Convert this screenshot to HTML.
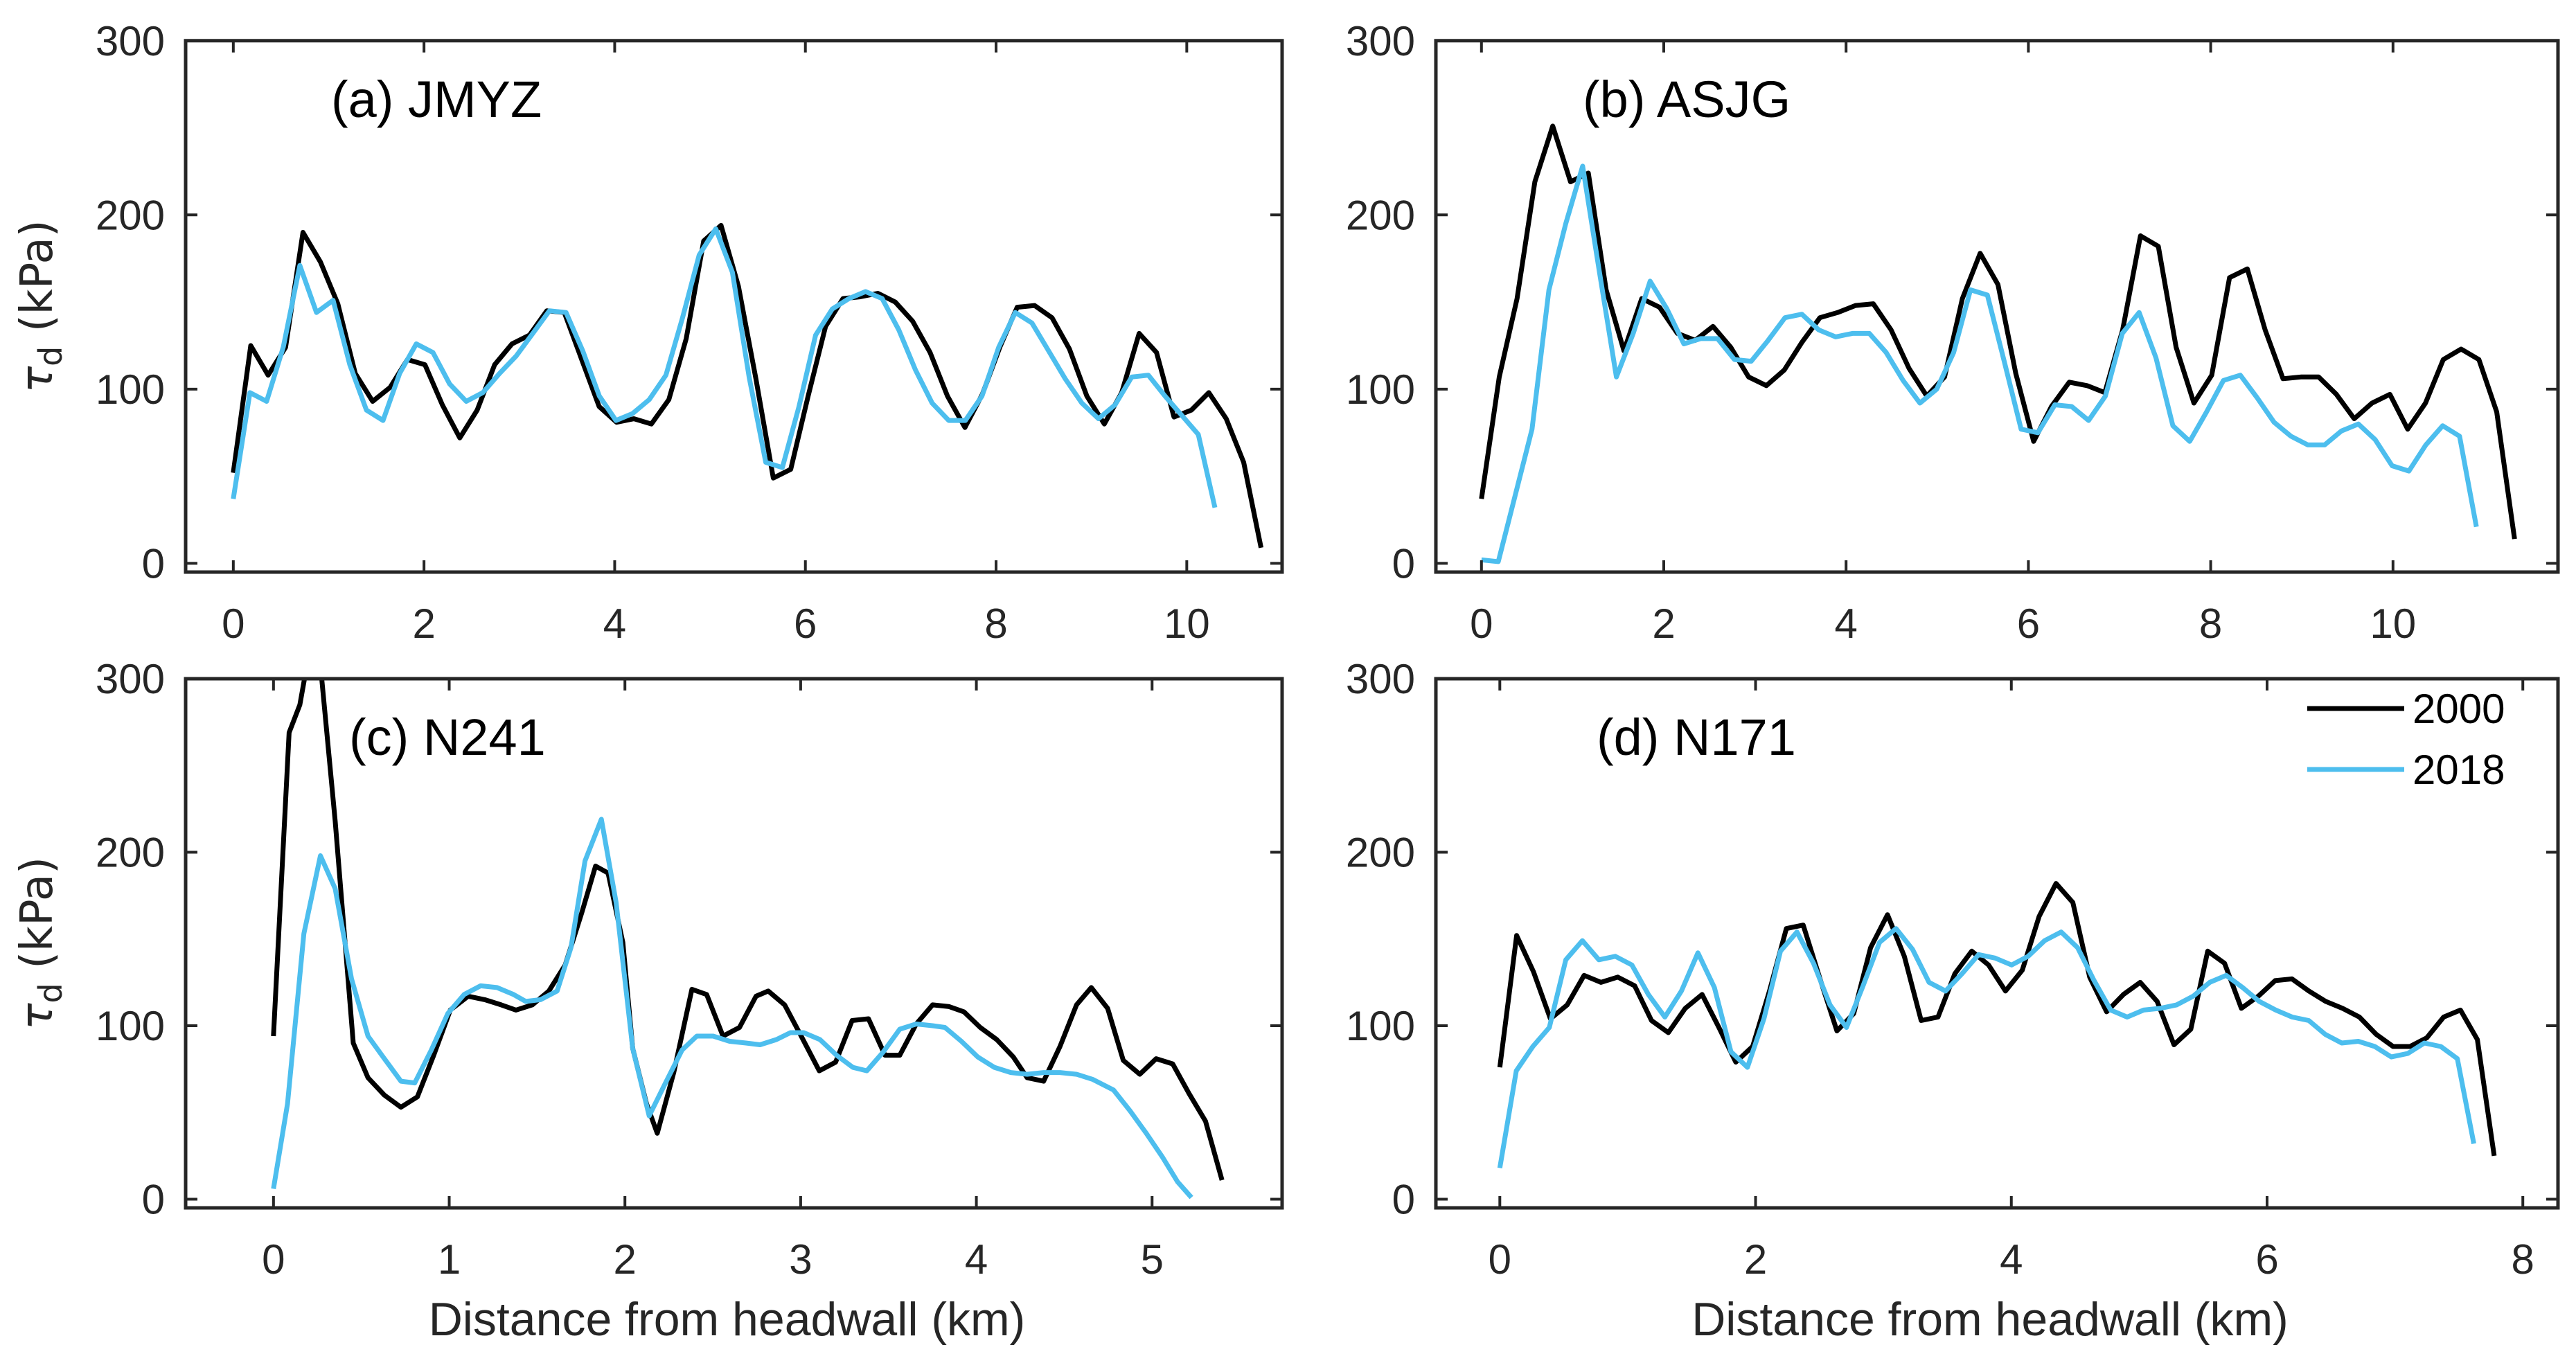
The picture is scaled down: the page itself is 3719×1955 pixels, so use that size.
<!DOCTYPE html>
<html><head><meta charset="utf-8">
<style>
html,body{margin:0;padding:0;background:#fff;}
svg{display:block;font-family:"Liberation Sans",sans-serif;}
</style></head>
<body>
<svg id="chart" width="3719" height="1955" viewBox="0 0 3719 1955" xmlns="http://www.w3.org/2000/svg">
<rect width="3719" height="1955" fill="#fff"/>
</svg>
<script>
// ---- data (kPa) ----
const aStep2000 = 0.1827;
const a2000 = [52,125,108,124,190,173,149,109,93,101,117,114,91,72,88,114,126,131,145,144,117,90,81,83,80,94,129,185,194,159,106,49,54,96,136,152,153,155,150,139,121,96,78,97,124,147,148,141,123,96,80,98,132,121,84,88,98,83,58,9];
const aStep2018 = 0.1745;
const a2018 = [37,98,93,124,171,144,151,114,88,82,109,126,121,103,93,98,109,119,132,145,144,122,96,82,86,94,108,141,177,192,167,107,58,55,90,131,146,152,156,152,134,111,92,82,82,96,124,144,138,122,106,92,83,91,107,108,96,85,74,32];
const bStep2000 = 0.1954;
const b2000 = [37,107,152,219,251,219,224,157,122,152,147,132,128,136,124,107,102,111,127,141,144,148,149,134,112,96,107,152,178,160,109,70,90,104,102,98,134,188,182,124,92,108,164,169,134,106,107,107,97,83,92,97,77,92,117,123,117,87,14];
const bStep2018 = 0.185;
const b2018 = [2,1,39,77,157,195,228,167,107,132,162,146,126,129,129,117,116,128,141,143,134,130,132,132,121,105,92,100,121,157,154,116,77,75,91,90,82,96,132,144,118,79,70,87,105,108,95,81,73,68,68,76,80,71,56,53,68,79,73,21];
const cX2000 = [0,0.089,0.15,0.187,0.267,0.351,0.454,0.538,0.631,0.725,0.819,0.912,1.006,1.108,1.202,1.296,1.38,1.473,1.567,1.66,1.754,1.833,1.904,1.988,2.044,2.123,2.184,2.278,2.381,2.465,2.558,2.652,2.746,2.816,2.909,3.003,3.106,3.199,3.293,3.386,3.48,3.564,3.658,3.751,3.845,3.929,4.022,4.116,4.21,4.289,4.383,4.476,4.57,4.654,4.747,4.836,4.93,5.023,5.117,5.21,5.304,5.398];
const c2000 = [94,269,285,306,308,218,90,70,60,53,59,83,109,117,115,112,109,112,120,135,165,192,188,148,87,55,38,73,121,118,94,99,117,120,112,94,74,79,103,104,83,83,101,112,111,108,99,92,82,70,68,88,112,122,110,80,72,81,78,61,45,11];
const cX2018 = [0,0.08,0.173,0.267,0.351,0.444,0.538,0.631,0.725,0.804,0.898,0.992,1.085,1.179,1.272,1.366,1.436,1.52,1.614,1.693,1.773,1.866,1.95,2.044,2.138,2.231,2.325,2.409,2.502,2.596,2.689,2.769,2.862,2.942,3.017,3.11,3.204,3.297,3.377,3.471,3.564,3.658,3.751,3.821,3.915,4.008,4.102,4.196,4.289,4.383,4.476,4.57,4.663,4.78,4.874,4.967,5.061,5.145,5.224];
const c2018 = [6,55,153,198,179,127,94,81,68,67,86,107,118,123,122,118,114,115,120,145,195,219,171,87,48,67,86,94,94,91,90,89,92,96,96,92,83,76,74,85,98,101,100,99,91,82,76,73,72,73,73,72,69,63,51,38,24,10,1];
const dStep2000 = 0.1318;
const d2000 = [76,152,131,104,112,129,125,128,123,103,96,110,118,99,79,88,120,156,158,127,97,107,145,164,140,103,105,130,143,135,120,132,163,182,171,128,108,118,125,114,89,98,143,136,110,117,126,127,120,114,110,105,95,88,88,93,105,109,92,25];
const dStep2018 = 0.1291;
const d2018 = [18,74,88,99,138,149,138,140,135,118,105,120,142,122,85,76,104,143,154,136,112,99,123,148,156,144,125,120,130,141,139,135,140,149,154,145,126,109,105,109,110,112,117,125,129,122,114,109,105,103,95,90,91,88,82,84,90,88,81,32];
const xTicksAB = [0,2,4,6,8,10];
const xTicksC = [0,1,2,3,4,5];
const xTicksD = [0,2,4,6,8];
const yTicks = [0,100,200,300];

const NS = "http://www.w3.org/2000/svg";
const svg = document.getElementById('chart');
function mk(tag, attrs, parent){ const e=document.createElementNS(NS,tag); for(const k in attrs) e.setAttribute(k,attrs[k]); (parent||svg).appendChild(e); return e; }

function panel(id, L, R, T, B, xmin, xmax, xticks, title, titleX, showYLabel, showXLabel, series){
  const sx = v => L + (v - xmin) / (xmax - xmin) * (R - L);
  const sy = v => B - (v - (-5)) / 305 * (B - T);
  const g = mk('g', {});
  
  
  const cp = mk('clipPath', {id: 'clip-' + id}, g);
  mk('rect', {x: L, y: T, width: R - L, height: B - T}, cp);
  series.forEach(s => {
    const pts = s.y.map((v, i) => sx(s.x ? s.x[i] : i * s.step).toFixed(1) + ',' + sy(v).toFixed(1)).join(' ');
    const pl = mk('polyline', {points: pts, fill: 'none', stroke: s.color, 'stroke-width': 7, 'stroke-linejoin': 'round', 'clip-path': 'url(#clip-' + id + ')'}, g);
    
    
  });
  const box = mk('rect', {x: L, y: T, width: R - L, height: B - T, fill: 'none', stroke: '#262626', 'stroke-width': 5}, g);
  
  
  xticks.forEach(t => {
    const x = sx(t);
    mk('line', {x1: x, x2: x, y1: B, y2: B - 17, stroke: '#262626', 'stroke-width': 4}, g);
    mk('line', {x1: x, x2: x, y1: T, y2: T + 17, stroke: '#262626', 'stroke-width': 4}, g);
    const tx = mk('text', {x: x, y: B + 95, 'font-size': 60, fill: '#262626', 'text-anchor': 'middle'}, g);
    
    
    tx.textContent = t;
  });
  yTicks.forEach(t => {
    const y = sy(t);
    mk('line', {x1: L, x2: L + 17, y1: y, y2: y, stroke: '#262626', 'stroke-width': 4}, g);
    mk('line', {x1: R, x2: R - 17, y1: y, y2: y, stroke: '#262626', 'stroke-width': 4}, g);
    const tx = mk('text', {x: L - 30, y: y + 21, 'font-size': 60, fill: '#262626', 'text-anchor': 'end'}, g);
    
    
    tx.textContent = t;
  });
  const tt = mk('text', {x: titleX, y: T + 110, 'font-size': 74, fill: '#000'}, g);
  
  
  tt.textContent = title;
  if (showYLabel) {
    const yl = mk('text', {transform: 'translate(75,' + ((T + B) / 2) + ') rotate(-90)', 'font-size': 64, fill: '#262626', 'text-anchor': 'middle', 'font-family': 'DejaVu Sans, sans-serif'}, g);
    
    
    yl.innerHTML = '<tspan font-style="italic">τ</tspan><tspan font-size="46" dy="14">d</tspan><tspan dy="-14"> (kPa)</tspan>';
  }
  if (showXLabel) {
    const xl = mk('text', {x: (L + R) / 2 - 10, y: 1928, 'font-size': 68, fill: '#262626', 'text-anchor': 'middle'}, g);
    
    
    xl.textContent = 'Distance from headwall (km)';
  }
  return g;
}

const BLK = '#000000', BLU = '#4DBEEE';
panel('panel-a-jmyz', 268, 1851, 58.75, 826, -0.5, 11.0, xTicksAB, '(a) JMYZ', 478, true, false,
  [{name:'line-2000', y:a2000, step:aStep2000, color:BLK},{name:'line-2018', y:a2018, step:aStep2018, color:BLU}]);
panel('panel-b-asjg', 2073, 3693, 58.75, 826, -0.5, 11.81, xTicksAB, '(b) ASJG', 2285, false, false,
  [{name:'line-2000', y:b2000, step:bStep2000, color:BLK},{name:'line-2018', y:b2018, step:bStep2018, color:BLU}]);
panel('panel-c-n241', 268, 1851, 980, 1744, -0.5, 5.74, xTicksC, '(c) N241', 504, true, true,
  [{name:'line-2000', y:c2000, x:cX2000, color:BLK},{name:'line-2018', y:c2018, x:cX2018, color:BLU}]);
panel('panel-d-n171', 2073, 3693, 980, 1744, -0.5, 8.275, xTicksD, '(d) N171', 2305, false, true,
  [{name:'line-2000', y:d2000, step:dStep2000, color:BLK},{name:'line-2018', y:d2018, step:dStep2018, color:BLU}]);

const lg = mk('g', {});


[['2000', BLK, 1023], ['2018', BLU, 1111]].forEach(([lab, col, y]) => {
  const e = mk('g', {}, lg);
  
  
  mk('line', {x1: 3331, x2: 3471, y1: y, y2: y, stroke: col, 'stroke-width': 7}, e);
  const t = mk('text', {x: 3483, y: y + 21, 'font-size': 60, fill: '#000'}, e);
  t.textContent = lab;
});
</script>
</body></html>
